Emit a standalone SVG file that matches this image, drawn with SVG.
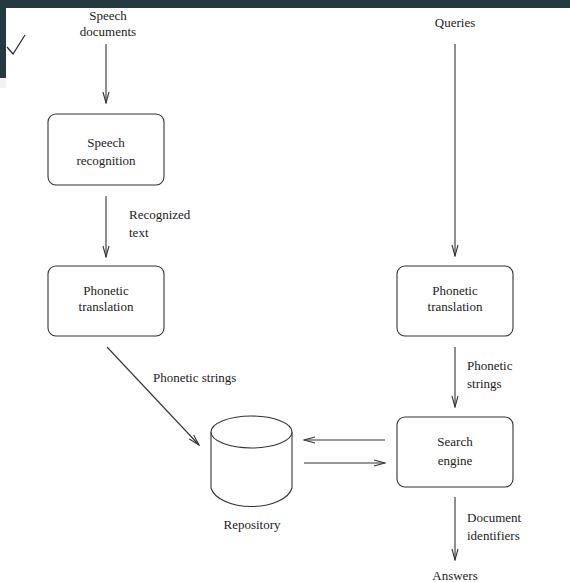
<svg xmlns="http://www.w3.org/2000/svg" width="570" height="582" viewBox="0 0 570 582" font-family="'Liberation Serif', 'Times New Roman', serif">
  <style>
    text { font-family: 'Liberation Serif', 'Times New Roman', Times, serif; font-size: 13px; fill: #222; }
    .c { text-anchor: middle; }
    .box { fill: #fff; stroke: #333; stroke-width: 1.1; }
    .edge { stroke: #333; stroke-width: 1.1; fill: none; }
  </style>
  <defs>
    <marker id="arrow" viewBox="-12 -4 13 8" refX="0" refY="0" markerWidth="13" markerHeight="8" markerUnits="userSpaceOnUse" orient="auto">
      <path d="M -11 -3 L 0 0 L -11 3" fill="none" stroke="#333" stroke-width="1.1"/>
    </marker>
  </defs>

  <rect width="570" height="582" fill="#fff"/>
  <!-- window frame -->
  <rect x="0" y="0" width="570" height="8" fill="#233a40"/>
  <rect x="0" y="0" width="6" height="78" fill="#233a40"/>
  <rect x="0" y="78" width="6" height="10" fill="#f2f2f2"/>
  <path d="M 7 47 L 13 54 L 25 35" fill="none" stroke="#222" stroke-width="1.2"/>

  <g id="connectors">
    <line class="edge" x1="106" y1="44" x2="106" y2="103" marker-end="url(#arrow)"/>
    <line class="edge" x1="106" y1="196" x2="106" y2="257" marker-end="url(#arrow)"/>
    <line class="edge" x1="107" y1="347" x2="199" y2="445" marker-end="url(#arrow)"/>
    <line class="edge" x1="455" y1="44" x2="455" y2="256" marker-end="url(#arrow)"/>
    <line class="edge" x1="455" y1="347" x2="455" y2="407" marker-end="url(#arrow)"/>
    <line class="edge" x1="385" y1="440" x2="304" y2="440" marker-end="url(#arrow)"/>
    <line class="edge" x1="304" y1="463" x2="385" y2="463" marker-end="url(#arrow)"/>
    <line class="edge" x1="455" y1="497" x2="455" y2="560" marker-end="url(#arrow)"/>
    <text x="129" y="219">Recognized</text>
    <text x="129" y="237">text</text>
    <text x="153" y="382">Phonetic strings</text>
    <text x="467" y="370">Phonetic</text>
    <text x="467" y="388">strings</text>
    <text x="467" y="522">Document</text>
    <text x="467" y="540">identifiers</text>
  </g>

  <g id="speech-documents">
    <text class="c" x="108" y="20">Speech</text>
    <text class="c" x="108" y="36">documents</text>
  </g>

  <g id="queries">
    <text class="c" x="455" y="27">Queries</text>
  </g>

  <g id="speech-recognition">
    <rect class="box" x="48" y="114" width="116" height="71" rx="8"/>
    <text class="c" x="106" y="147">Speech</text>
    <text class="c" x="106" y="165">recognition</text>
  </g>

  <g id="phonetic-translation-docs">
    <rect class="box" x="48" y="266" width="116" height="70" rx="8"/>
    <text class="c" x="106" y="295">Phonetic</text>
    <text class="c" x="106" y="311">translation</text>
  </g>

  <g id="phonetic-translation-queries">
    <rect class="box" x="397" y="266" width="116" height="70" rx="8"/>
    <text class="c" x="455" y="295">Phonetic</text>
    <text class="c" x="455" y="311">translation</text>
  </g>

  <g id="search-engine">
    <rect class="box" x="397" y="417" width="116" height="70" rx="8"/>
    <text class="c" x="455" y="446">Search</text>
    <text class="c" x="455" y="465">engine</text>
  </g>

  <g id="repository">
    <path class="box" d="M 211 432 L 211 488 A 41 22 0 0 0 292 488 L 292 432"/>
    <ellipse class="box" cx="251.5" cy="432" rx="40.5" ry="16"/>
    <text class="c" x="252" y="529">Repository</text>
  </g>

  <g id="answers">
    <text class="c" x="455" y="580">Answers</text>
  </g>
</svg>
